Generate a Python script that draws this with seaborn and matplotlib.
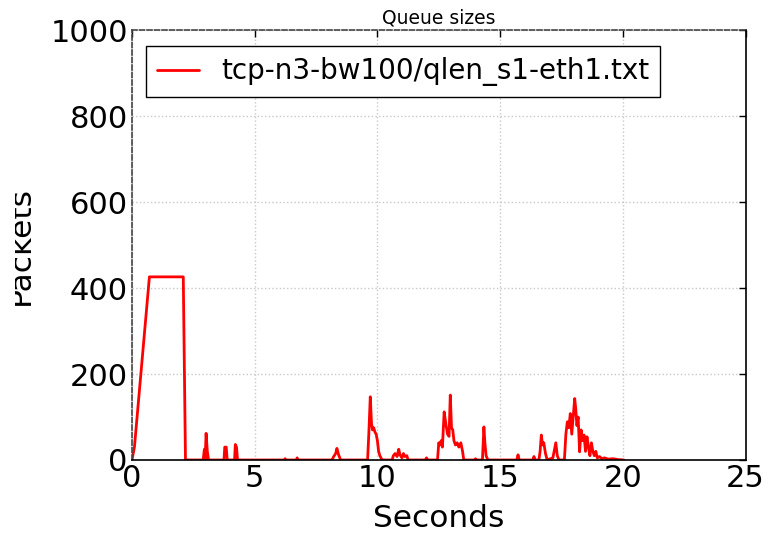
import matplotlib
matplotlib.use("Agg")
import matplotlib.pyplot as plt
from matplotlib.patches import Rectangle
import seaborn as sns
import pandas as pd

# Queue length samples (seconds, packets)
times = [0.0, 0.05, 0.1, 0.71, 1.0, 1.5, 2.09, 2.18,
         2.9, 2.95, 2.98, 3.02, 3.07, 3.12,
         3.75, 3.78, 3.84, 3.88, 4.18, 4.21, 4.26, 4.3,
         6.2, 6.24, 6.28, 6.7, 6.73, 6.77,
         8.15, 8.22, 8.3, 8.35, 8.42, 8.5,
         9.6, 9.65, 9.71, 9.76, 9.8, 9.85, 9.9, 9.95, 10.0, 10.05, 10.1, 10.19,
         10.6, 10.65, 10.72, 10.8, 10.87, 10.92, 11.0, 11.06, 11.12, 11.2, 11.25,
         11.95, 12.0, 12.05,
         12.45, 12.5, 12.55, 12.6, 12.65, 12.72, 12.8, 12.86, 12.92, 12.97, 13.02,
         13.07, 13.12, 13.18, 13.25, 13.32, 13.4, 13.47, 13.52,
         13.95, 14.0, 14.05, 14.28, 14.34, 14.38, 14.43, 14.5,
         15.68, 15.73, 15.78, 16.33, 16.38, 16.43,
         16.58, 16.63, 16.68, 16.73, 16.78, 16.85, 16.92, 17.15, 17.2, 17.27, 17.33, 17.4,
         17.62, 17.68, 17.74, 17.8, 17.86, 17.92, 17.98, 18.04, 18.08, 18.13, 18.18,
         18.24, 18.3, 18.36, 18.42, 18.48, 18.54, 18.6, 18.66, 18.72, 18.78, 18.84,
         18.9, 18.96, 19.05, 19.15, 19.25, 19.4, 19.6, 19.8, 20.05]
qlen = [0, 15, 30, 426, 426, 426, 426, 0,
        0, 25, 0, 62, 20, 0,
        0, 30, 30, 0, 0, 36, 30, 0,
        0, 3, 0, 0, 5, 0,
        0, 8, 15, 27, 12, 0,
        0, 60, 147, 85, 70, 75, 65, 60, 45, 20, 10, 0,
        0, 10, 15, 8, 25, 12, 5, 15, 8, 10, 0,
        0, 5, 0,
        0, 40, 35, 45, 30, 112, 80, 60, 55, 151, 75,
        70, 45, 35, 40, 30, 40, 20, 0,
        0, 3, 0, 0, 77, 40, 10, 0,
        0, 12, 0, 0, 8, 0,
        0, 20, 58, 35, 40, 15, 0, 5, 20, 40, 10, 0,
        0, 60, 89, 75, 108, 60, 100, 143, 120, 80, 100,
        19, 70, 45, 58, 20, 54, 30, 10, 40, 20, 10,
        20, 5, 8, 3, 5, 2, 3, 1, 0]

df = pd.DataFrame({"Seconds": times, "Packets": qlen})

sns.set_style("white")
plt.rcParams["font.family"] = ["DejaVu Sans"]
plt.rcParams["text.color"] = "black"
plt.rcParams["axes.labelcolor"] = "black"
plt.rcParams["xtick.color"] = "black"
plt.rcParams["ytick.color"] = "black"

fig = plt.figure(figsize=(7.7, 5.38), dpi=100)
ax = fig.add_axes([0.1714, 0.145, 0.7968, 0.799])

sns.lineplot(data=df, x="Seconds", y="Packets", ax=ax, color="red",
             linewidth=2, label="tcp-n3-bw100/qlen_s1-eth1.txt", estimator=None)

ax.set_xlim(0, 25)
ax.set_ylim(0, 1000)
ax.set_xticks([0, 5, 10, 15, 20, 25])
ax.set_yticks([0, 200, 400, 600, 800, 1000])
ax.tick_params(axis="both", which="major", labelsize=22, direction="in",
               top=True, right=True, length=5, width=1, color="black", pad=3)
ax.grid(True, linestyle=":", color="#c8c8c8", linewidth=1)
for name, s in ax.spines.items():
    s.set_linewidth(1.2)
    if name in ("top", "left"):
        s.set_color("#444444")
        s.set_linestyle((0, (3, 1.5)))
    else:
        s.set_color("black")
ax.set_title("Queue sizes", fontsize=13.5, pad=5)
ax.set_xlabel("Seconds", fontsize=22.5, labelpad=8)
ax.set_ylabel("Packets", fontsize=22.5)
ax.yaxis.set_label_coords(-0.159, 0.5)

# the reference's y label is cut at its left side
fig.add_artist(Rectangle((0, 0), 15 / 770, 1, transform=fig.transFigure,
                         facecolor="white", edgecolor="none", zorder=10))

leg = ax.legend(loc="upper left", fontsize=20, fancybox=False, framealpha=1,
                edgecolor="black", handlelength=1.5, borderpad=0.4,
                bbox_to_anchor=(0.0, 0.995))
leg.get_frame().set_linewidth(1)

fig.savefig("out.png", dpi=100)
